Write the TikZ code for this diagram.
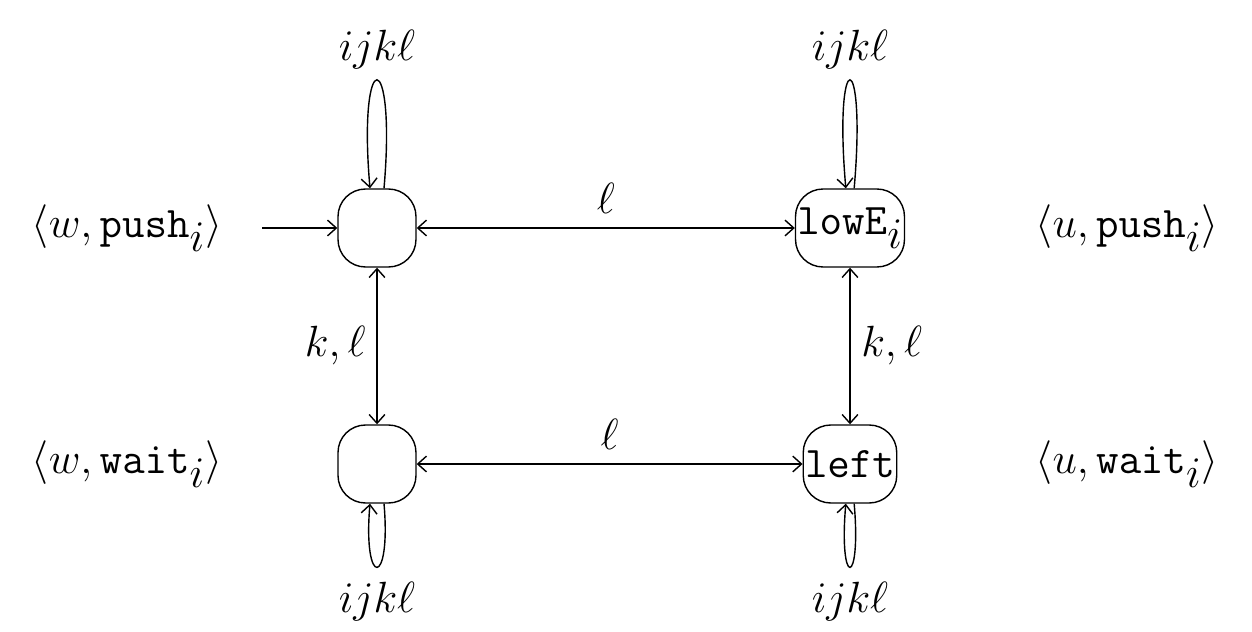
\documentclass[tikz,border=0pt]{standalone}
\usetikzlibrary{arrows.meta}
\begin{document}
\begin{tikzpicture}[x=0.02cm,y=-0.02cm,
  st/.style={draw,line width=0.8pt,rounded corners=0.55cm,minimum height=1.56cm,minimum width=1.56cm,inner sep=1pt,font=\fontsize{33}{40}\selectfont},
  lab/.style={font=\fontsize{33}{40}\selectfont,inner sep=0pt},
  ar/.style={line width=0.8pt,-{Straight Barb[length=5pt,width=9pt]}},
  dar/.style={line width=0.8pt,{Straight Barb[length=5pt,width=9pt]}-{Straight Barb[length=5pt,width=9pt]}}]
\useasboundingbox (0,0) rectangle (1252,632);
\node[st] (a) at (377,228) {};
\node[st] (b) at (850,228) {$\mathtt{lowE}_i$};
\node[st] (c) at (377,464) {};
\node[st] (d) at (850,464) {$\mathtt{left}$};
\node[lab] (lw1) at (127,228) {$\langle w,\mathtt{push}_i\rangle$};
\node[lab] (lw2) at (127,464) {$\langle w,\mathtt{wait}_i\rangle$};
\node[lab] (lu1) at (1127,228) {$\langle u,\mathtt{push}_i\rangle$};
\node[lab] (lu2) at (1127,464) {$\langle u,\mathtt{wait}_i\rangle$};
\coordinate (s) at (262,228);
\draw[ar] (s) -- (a);
\draw[dar] (a) -- node[lab,above=8pt] {$\ell$} (b);
\draw[dar] (c) -- node[lab,above=8pt] {$\ell$} (d);
\draw[dar] (a) -- node[lab,left=6pt] {$k,\ell$} (c);
\draw[dar] (b) -- node[lab,right=6pt] {$k,\ell$} (d);
\draw[ar] (a.80) to[out=85,in=95,distance=2.9cm] node[lab,above=6pt] {$ijk\ell$} (a.100);
\draw[ar] (b.84) to[out=85,in=95,distance=2.9cm] node[lab,above=6pt] {$ijk\ell$} (b.96);
\draw[ar] (c.-80) to[out=-85,in=-95,distance=1.7cm] node[lab,below=8pt] {$ijk\ell$} (c.-100);
\draw[ar] (d.-84) to[out=-85,in=-95,distance=1.7cm] node[lab,below=8pt] {$ijk\ell$} (d.-96);
\end{tikzpicture}
\end{document}
